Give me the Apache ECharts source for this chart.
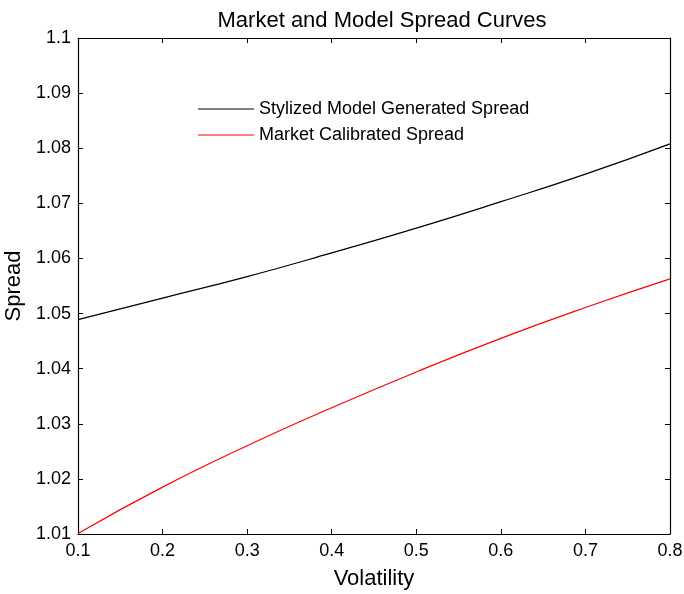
<!DOCTYPE html>
<html>
<head>
<meta charset="utf-8">
<script src="https://cdn.jsdelivr.net/npm/echarts@6/dist/echarts.min.js"></script>
<style>
  html, body { margin: 0; padding: 0; background: #fff; }
  #chart { width: 684px; height: 594px; }
</style>
</head>
<body>
<div id="chart"></div>
<script>
// values
const volatility = [0.1, 0.2, 0.3, 0.4, 0.5, 0.6, 0.7, 0.8];
const modelSpread = [1.0489, 1.0528, 1.0567, 1.0610, 1.0655, 1.0703, 1.0753, 1.0808];
const marketSpread = [1.0101, 1.0185, 1.0260, 1.0329, 1.0394, 1.0455, 1.0511, 1.0563];

const font = "'Liberation Sans', Arial, Helvetica, sans-serif";
const toPairs = (xs, ys) => xs.map((x, i) => [x, ys[i]]);

const chart = echarts.init(document.getElementById("chart"));

const axisLine = { show: true, lineStyle: { color: "#000", width: 1.2 } };
const axisTick = { show: true, inside: true, length: 5, lineStyle: { color: "#000" } };
const fmt = (v) => String(+v.toFixed(2));

chart.setOption({
  animation: false,
  backgroundColor: "#fff",
  title: {
    text: "Market and Model Spread Curves",
    left: 377,
    textAlign: "center",
    top: 5,
    textStyle: { fontFamily: font, fontSize: 22, fontWeight: "normal", color: "#000" },
  },
  legend: {
    orient: "vertical",
    left: 193,
    top: 95,
    icon: "rect",
    itemWidth: 56,
    itemHeight: 1,
    itemGap: 8,
    textStyle: { fontFamily: font, fontSize: 18, color: "#000", padding: [0, 0, 0, 0] },
    data: ["Stylized Model Generated Spread", "Market Calibrated Spread"],
  },
  grid: { left: 78, right: 14, top: 38, bottom: 60, outerBoundsMode: "none" },
  xAxis: [
    {
      type: "value",
      min: 0.1,
      max: 0.8,
      interval: 0.1,
      name: "Volatility",
      nameLocation: "middle",
      nameGap: 34,
      nameTextStyle: { fontFamily: font, fontSize: 22, color: "#000" },
      axisLine,
      axisTick,
      splitLine: { show: false },
      axisLabel: { fontFamily: font, fontSize: 18, color: "#000", margin: 8, formatter: fmt },
    },
    {
      type: "value",
      position: "top",
      min: 0.1,
      max: 0.8,
      interval: 0.1,
      axisLine,
      axisTick,
      splitLine: { show: false },
      axisLabel: { show: false },
    },
  ],
  yAxis: [
    {
      type: "value",
      min: 1.01,
      max: 1.1,
      interval: 0.01,
      name: "Spread",
      nameLocation: "middle",
      nameGap: 49,
      nameTextStyle: { fontFamily: font, fontSize: 22, color: "#000" },
      axisLine,
      axisTick,
      splitLine: { show: false },
      axisLabel: { fontFamily: font, fontSize: 18, color: "#000", margin: 7, formatter: fmt },
    },
    {
      type: "value",
      position: "right",
      min: 1.01,
      max: 1.1,
      interval: 0.01,
      axisLine,
      axisTick,
      splitLine: { show: false },
      axisLabel: { show: false },
    },
  ],
  series: [
    {
      name: "Stylized Model Generated Spread",
      type: "line",
      smooth: true,
      symbol: "none",
      color: "#000",
      lineStyle: { width: 1.2, color: "#000" },
      data: toPairs(volatility, modelSpread),
    },
    {
      name: "Market Calibrated Spread",
      type: "line",
      smooth: true,
      symbol: "none",
      color: "#ff0000",
      lineStyle: { width: 1.2, color: "#ff0000" },
      data: toPairs(volatility, marketSpread),
    },
  ],
});
</script>
</body>
</html>
